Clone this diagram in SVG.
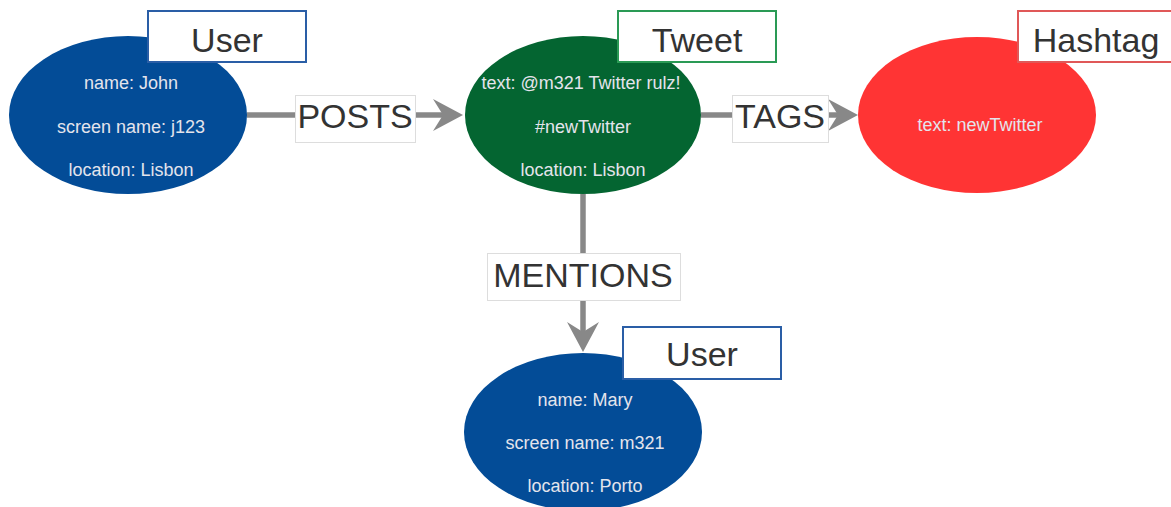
<svg xmlns="http://www.w3.org/2000/svg" width="1171" height="507" viewBox="0 0 1171 507">
<style>
.bg{fill:#ffffff}
.edge{stroke:#888888;stroke-width:5.5;fill:none}
.elbl{fill:#ffffff;stroke:#dddddd;stroke-width:1}
.big{font-family:"Liberation Sans",Arial,sans-serif;font-size:34px;fill:#333333;text-anchor:middle}
.prop{font-family:"Liberation Sans",Arial,sans-serif;font-size:18px;fill:#e4e4ec;text-anchor:middle}
.tag{fill:#ffffff;stroke-width:2}
.user ellipse{fill:#034c97}
.user rect{stroke:#2a5ea6}
.tweet ellipse{fill:#046531}
.tweet rect{stroke:#2a9a55}
.hash ellipse{fill:#ff3434}
.hash rect{stroke:#e05858}
</style>
<defs>
<marker id="arr" markerUnits="userSpaceOnUse" markerWidth="32" markerHeight="34" refX="10" refY="16" orient="auto" viewBox="0 0 32 32">
<path d="M0,0 L30,16 L0,32 L10,16 Z" fill="#888888"/>
</marker>
<clipPath id="c1"><rect x="0" y="60" width="205" height="130"/></clipPath>
<clipPath id="c2"><rect x="478" y="60" width="250" height="130"/></clipPath>
<clipPath id="c3"><rect x="850" y="60" width="196" height="130"/></clipPath>
</defs>
<rect class="bg" x="0" y="0" width="1171" height="507"/>

<g id="connectors">
<line class="edge" x1="247" y1="115" x2="443" y2="115" marker-end="url(#arr)"/>
<line class="edge" x1="701" y1="115" x2="838" y2="115" marker-end="url(#arr)"/>
<line class="edge" x1="583" y1="194" x2="583" y2="332" marker-end="url(#arr)"/>
<rect class="elbl" x="295.5" y="95.5" width="120" height="47"/>
<text class="big" x="355" y="128">POSTS</text>
<rect class="elbl" x="732.5" y="95.5" width="96" height="47"/>
<text class="big" x="780" y="128">TAGS</text>
<rect class="elbl" x="487.5" y="253.5" width="193" height="47"/>
<text class="big" x="583" y="287">MENTIONS</text>
</g>

<g id="user-john" class="user">
<ellipse cx="128" cy="115" rx="119" ry="79"/>
<g clip-path="url(#c1)">
<text class="prop" x="131" y="89">name: John</text>
<text class="prop" x="131" y="133">screen name: j123</text>
<text class="prop" x="131" y="176">location: Lisbon</text>
</g>
<rect class="tag" x="148" y="11" width="158" height="51"/>
<text class="big" x="227" y="52">User</text>
</g>

<g id="tweet" class="tweet">
<ellipse cx="583" cy="115" rx="118" ry="79"/>
<g clip-path="url(#c2)">
<text class="prop" x="581" y="89">text: @m321 Twitter rulz!</text>
<text class="prop" x="583" y="133">#newTwitter</text>
<text class="prop" x="583" y="176">location: Lisbon</text>
</g>
<rect class="tag" x="618" y="11" width="158" height="51"/>
<text class="big" x="697" y="52">Tweet</text>
</g>

<g id="hashtag" class="hash">
<ellipse cx="977" cy="115" rx="119" ry="78"/>
<g clip-path="url(#c3)">
<text class="prop" x="980" y="131">text: newTwitter</text>
</g>
<rect class="tag" x="1018" y="11" width="158" height="51"/>
<text class="big" x="1096" y="52">Hashtag</text>
</g>

<g id="user-mary" class="user">
<ellipse cx="583" cy="432" rx="119" ry="79"/>
<text class="prop" x="585" y="406">name: Mary</text>
<text class="prop" x="585" y="449">screen name: m321</text>
<text class="prop" x="585" y="492">location: Porto</text>
<rect class="tag" x="623" y="327" width="158" height="52"/>
<text class="big" x="702" y="366">User</text>
</g>
</svg>
